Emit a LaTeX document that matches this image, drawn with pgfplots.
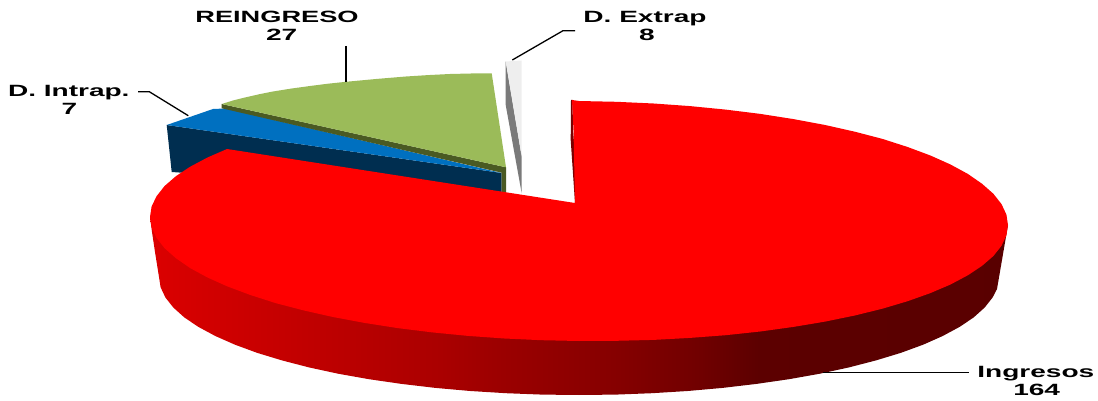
\documentclass[border=0pt]{standalone}
\usepackage{graphicx}
\usepackage{pgfplots}
\pgfplotsset{compat=1.18}
\usepackage{fontspec}
\setmainfont{Liberation Sans}
\definecolor{cgreen}{HTML}{9BBB59}
\definecolor{colive}{HTML}{4A5A23}
\definecolor{cblue}{HTML}{0070C0}
\definecolor{cnavy}{HTML}{002E50}
\definecolor{clight}{HTML}{EEEEEE}
\definecolor{cgrey}{HTML}{7A7A7A}
\definecolor{csliver}{HTML}{7A0000}
\pgfdeclarehorizontalshading{wallshade}{100bp}{
 rgb(0bp)=(.86,0,0); rgb(25bp)=(.86,0,0); rgb(41.9bp)=(.667,0,0); rgb(45.4bp)=(.61,0,0);
 rgb(52.4bp)=(.52,0,0); rgb(57.05bp)=(.44,0,0); rgb(60.5bp)=(.36,0,0); rgb(75bp)=(.35,0,0); rgb(100bp)=(.35,0,0)}
\newcommand{\lab}[3]{\node[anchor=base,inner sep=0pt,font=\fontsize{16.3}{18}\selectfont\bfseries] at (axis cs:#1,#2) {\scalebox{1.72}[1]{#3}};}
\begin{document}
\begin{tikzpicture}
\path[use as bounding box] (0,0) rectangle (1098pt,401pt);
\begin{axis}[at={(0,0)},anchor=south west,scale only axis,width=1098pt,height=401pt,
  xmin=0,xmax=1098,ymin=0,ymax=401,y dir=reverse,hide axis,clip=false]
% grey sliver of the D. Extrap slice
\addplot[fill=cgrey,draw=none,forget plot] coordinates {(505.7,61.5)(505.7,105)(521.7,193.3)(521.7,156.7)};
\addplot[fill=clight,draw=none,forget plot] coordinates {(505.7,61.5)(521.7,60.5)(521.7,156.7)};
% D. Intrap slice
\addplot[fill=cnavy,draw=none,forget plot] coordinates {(166.7,125)(501.7,173)(501.7,195)(171.7,172)};
\addplot[fill=cblue,draw=none,forget plot] coordinates {(166.7,125)(213,109)(225,108.5)(501.7,173)};
% REINGRESO slice
\addplot[fill=colive,draw=none,forget plot] coordinates {(221.7,104)(506,167.3)(506,195)(501.7,195)(501.7,172.7)(221.7,108.3)};
\addplot[fill=cgreen,draw=none,forget plot] coordinates {(221.7,104)(233,100.5)(245,97.5)(259,94.3)(273,91.5)(291,88.6)(310,86)(328,83.7)(347,81.7)(376,79)(406,76.5)(428,75.1)(450,74)(471,73.5)(491.7,73.3)(506,167.3)};
% Ingresos: wall
\addplot[shading=wallshade,shading angle=0,draw=none,forget plot] coordinates {
(150,217)(152,232)(155,252)(159,277)(160.6,287.3)(165.4,297.5)(173.3,307.5)(184.3,317.4)(198.4,326.9)(215.3,336)(235,344.7)(257.3,352.9)(282,360.4)(309,367.4)(338.1,373.7)(369,379.2)(401.5,383.9)(435.4,387.9)(470.3,391)(506,393.2)(542.4,394.6)(579,395)(615.6,394.6)(652,393.2)(687.7,391)(722.6,387.9)(756.5,383.9)(789,379.2)(819.9,373.7)(849,367.4)(876,360.4)(900.7,352.9)(923.1,344.7)(942.7,336)(959.6,326.9)(973.7,317.4)(984.7,307.5)(992.6,297.5)(997,289)(1008,225)};
% inner wall sliver
\addplot[fill=csliver,draw=none,forget plot] coordinates {(571,100)(570.7,140)(575,203)(579,203)(573,130)(572.5,100)};
% Ingresos: top
\addplot[fill=red,draw=none,forget plot] coordinates {
(572,100)(579,101)(616.4,101.8)(653.5,103.5)(690,106.1)(725.7,109.6)(760.3,113.9)(793.5,119.1)(825.1,125)(854.8,131.7)(882.4,138.9)(907.6,147)(930.4,155.5)(950.5,164.5)(967.8,173.9)(982.1,183.8)(993.4,193.8)(1001.5,204.1)(1006.4,214.5)(1008,225)
(1006.4,235.5)(1001.5,245.8)(993.4,256)(982.1,265.8)(967.8,275.3)(950.5,284.5)(930.4,293.1)(907.6,301.2)(882.4,308.7)(854.8,315.5)(825.1,321.6)(793.5,326.9)(760.3,331.5)(725.7,335.2)(690,337.9)(653.5,339.9)(616.4,340.8)(579,341)
(541.6,340.2)(504.5,338.5)(468,335.9)(432.3,332.4)(397.7,328.1)(364.5,322.9)(332.9,317)(303.2,310.3)(275.6,303.1)(250.4,295)(227.6,286.5)(207.5,277.5)(190.2,268.1)(175.9,258.2)(164.6,248.2)(156.5,237.9)(151.6,227.5)(150,217)
(151.6,206.5)(156.5,196.3)(164.6,186)(175.9,176.2)(190.2,166.7)(207.5,157.5)(227,149)(575,203)(573.5,130)};
% leader lines
\addplot[black,line width=1.5pt,forget plot] coordinates {(346,46)(346,82)};
\addplot[black,line width=1.3pt,forget plot] coordinates {(138,91.7)(149.3,91.7)(188.3,115.7)};
\addplot[black,line width=1.3pt,forget plot] coordinates {(575,30.7)(563,30.7)(512.3,60)};
\addplot[black,line width=1.3pt,forget plot] coordinates {(823,372.7)(969.3,372.7)};
% labels
\lab{277}{22.3}{\scalebox{.97}[1]{REINGRESO}}
\lab{281.7}{41}{27}
\lab{68.8}{96.7}{D. Intrap.}
\lab{69.3}{115}{7}
\lab{645}{22.3}{D. Extrap}
\lab{647}{41}{8}
\lab{1035.8}{377.3}{Ingresos}
\lab{1036.7}{395}{164}
\end{axis}
\end{tikzpicture}
\end{document}
